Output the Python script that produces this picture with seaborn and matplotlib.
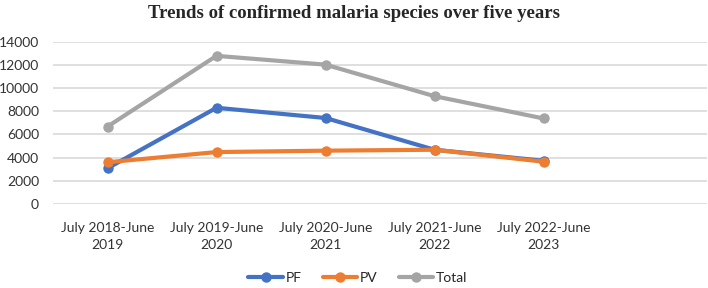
import numpy as np
import pandas as pd
import seaborn as sns
from matplotlib import pyplot as plt
from matplotlib.lines import Line2D

periods = ["July 2018-June\n2019", "July 2019-June\n2020", "July 2020-June\n2021",
           "July 2021-June\n2022", "July 2022-June\n2023"]
pf = [3080, 8300, 7420, 4680, 3730]
pv = [3600, 4480, 4600, 4680, 3650]
total = [6680, 12780, 12020, 9300, 7380]

series_names = ["PF", "PV", "Total"]
colors = ["#4472C4", "#ED7D31", "#A5A5A5"]

df = pd.DataFrame({"x": list(range(len(periods))) * 3,
                   "value": pf + pv + total,
                   "series": [s for s in series_names for _ in periods]})

sns.set_style("white")
plt.rcParams["font.family"] = ["Lato", "DejaVu Sans"]

fig = plt.figure(figsize=(7.08, 2.88), dpi=100)
ax = fig.add_axes([53 / 708, 1 - 204 / 288, 654 / 708, (204 - 41.7) / 288])

sns.lineplot(data=df, x="x", y="value", hue="series", palette=colors,
             marker="o", markersize=7.5, markeredgewidth=0, linewidth=3,
             ax=ax, legend=False, zorder=3)

ax.set_xlim(-0.5, 5.5)
ax.set_ylim(0, 14000)
ax.set_yticks(np.arange(0, 14001, 2000))
ax.set_xticks(range(len(periods)))
ax.set_xticklabels(periods, fontsize=10, color="#333333", linespacing=1.45)
ax.tick_params(axis="y", labelsize=10, labelcolor="#333333", length=0, pad=10)
ax.tick_params(axis="x", length=0, pad=13)
ax.set_xlabel("")
ax.set_ylabel("")
ax.grid(axis="y", color="#D9D9D9", linewidth=1.2)
ax.set_axisbelow(True)
for s in ax.spines.values():
    s.set_visible(False)

handles = [Line2D([], [], color=c, lw=3, marker="o", markersize=7.5, markeredgewidth=0) for c in colors]
fig.legend(handles, series_names, loc="center", bbox_to_anchor=(358 / 708, 1 - 278 / 288),
           ncol=3, frameon=False, fontsize=10, handlelength=2.5, columnspacing=1.5, handletextpad=0.2)

fig.text(0.5, 1 - 13 / 288, "Trends of confirmed malaria species over five years",
         ha="center", va="center", fontsize=13.5, fontweight="bold", family="Liberation Serif")

fig.savefig("out.png", dpi=100)
